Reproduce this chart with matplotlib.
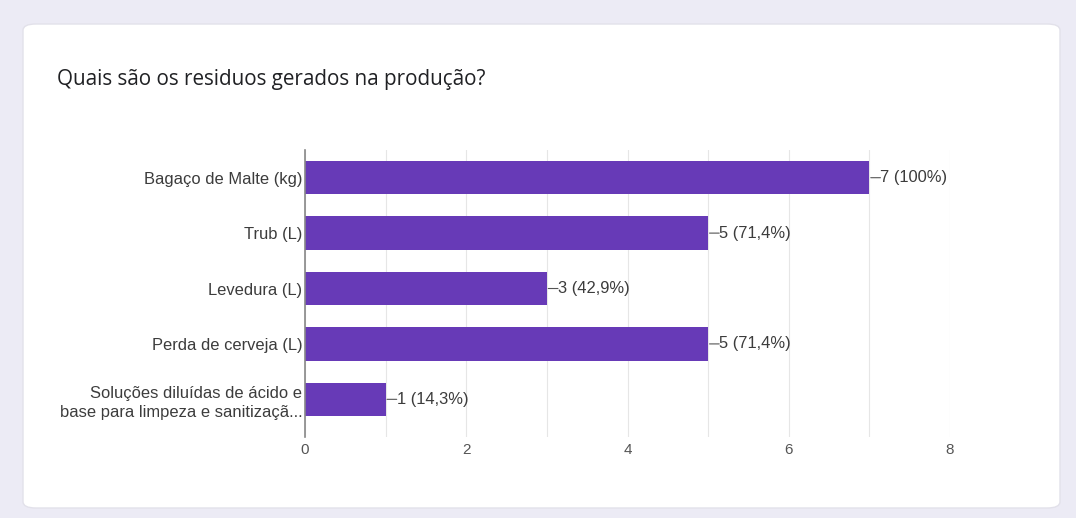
import matplotlib.pyplot as plt
from matplotlib.patches import FancyBboxPatch

categories = ["Bagaço de Malte (kg)", "Trub (L)", "Levedura (L)", "Perda de cerveja (L)",
              "Soluções diluídas de ácido e\nbase para limpeza e sanitizaçã..."]
counts = [7, 5, 3, 5, 1]
labels = ["7 (100%)", "5 (71,4%)", "3 (42,9%)", "5 (71,4%)", "1 (14,3%)"]
xticks = [0, 2, 4, 6, 8]

W, H = 1076, 518
fig = plt.figure(figsize=(W / 100, H / 100), dpi=100)
fig.patch.set_facecolor("#ecebf5")

card = FancyBboxPatch((23 / W, 10 / H), 1037 / W, 484 / H,
                      boxstyle="round,pad=0,rounding_size=0.012",
                      transform=fig.transFigure, facecolor="white",
                      edgecolor="#e2e1ea", linewidth=1, zorder=-5)
fig.patches.append(card)

fig.text(57 / W, 1 - 80 / H, "Quais são os residuos gerados na produção?",
         fontsize=14.9, color="#202124", family="Open Sans", va="center")

txt = "#3c3c3c"
ax = fig.add_axes([305 / W, 1 - 437 / H, 645 / W, 287 / H], zorder=2)
ax.set_facecolor("white")
ypos = list(range(len(categories)))
ax.barh(ypos, counts, height=0.6, color="#673ab7", zorder=3)
ax.set_xlim(0, 8)
ax.set_ylim(4.68, -0.5)
ax.set_yticks(ypos)
ax.set_yticklabels(categories, fontsize=11.9, color=txt, family="Liberation Sans",
                   linespacing=1.35)
ax.set_xticks(xticks)
ax.set_xticklabels([str(t) for t in xticks], fontsize=11, color="#555555",
                   family="Liberation Sans")
ax.set_xticks(range(0, 9), minor=True)
ax.grid(axis="x", which="both", color="#e6e6e6", linewidth=0.8, zorder=0)
ax.tick_params(axis="both", which="both", length=0, pad=4)
ax.tick_params(axis="y", pad=2)
for s in ["top", "right", "bottom"]:
    ax.spines[s].set_visible(False)
ax.spines["left"].set_color("#888888")
ax.spines["left"].set_linewidth(1.2)
ax.spines["left"].set_zorder(4)

for y, c, lab in zip(ypos, counts, labels):
    ax.annotate("", xy=(c, y), xytext=(8, 0), textcoords="offset points",
                arrowprops=dict(arrowstyle="-", color="#555555", lw=0.8,
                                shrinkA=0, shrinkB=1))
    ax.annotate(lab, xy=(c, y), xytext=(8, 0), textcoords="offset points",
                va="center", ha="left", fontsize=11.9, color=txt,
                family="Liberation Sans")

fig.savefig("out.png", dpi=100, facecolor=fig.get_facecolor())
